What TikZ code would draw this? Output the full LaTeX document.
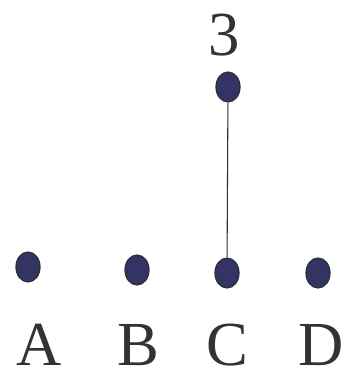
\documentclass[tikz,border=0pt]{standalone}
\usepackage{fontspec}
\setmainfont{Liberation Serif}
\usetikzlibrary{shapes.geometric}
\definecolor{dotfill}{RGB}{52,52,100}
\definecolor{dotline}{RGB}{45,45,55}
\definecolor{labeltext}{RGB}{50,50,55}

\begin{document}
\begin{tikzpicture}[x=0.75pt, y=-0.75pt,
  dot/.style={ellipse, draw=dotline, fill=dotfill, line width=0.9pt,
    minimum width=18pt, minimum height=22.5pt, inner sep=0pt},
  lbl/.style={anchor=base, inner sep=0pt, text=labeltext,
    font=\fontsize{47}{50}\selectfont},
  link/.style={draw=dotline, line width=0.8pt},
]
  \useasboundingbox (0,0) rectangle (343,372);

  \node[dot] (a) at (28, 267) {};
  \node[dot] (b) at (137, 270) {};
  \node[dot] (c) at (227, 273) {};
  \node[dot] (d) at (318, 273) {};
  \node[dot] (top) at (228, 87) {};

  \draw[link] (top) -- (c);

  \node[lbl] (topnum) at (224, 55) {3};
  \node[lbl] (la) at (39, 365) {A};
  \node[lbl] (lb) at (138, 365) {B};
  \node[lbl] (lc) at (227, 365) {C};
  \node[lbl] (ld) at (321, 365) {D};
\end{tikzpicture}
\end{document}
